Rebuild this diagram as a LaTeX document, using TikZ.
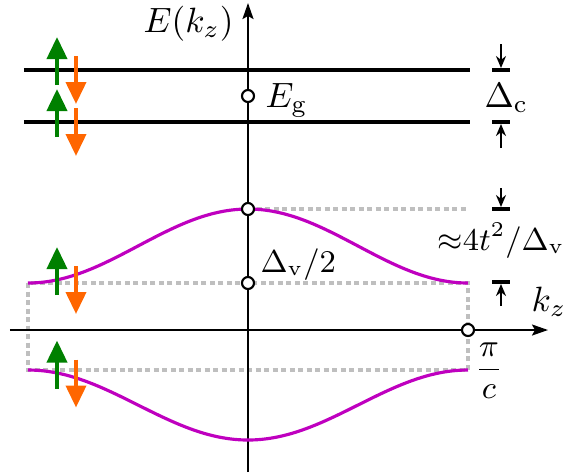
\documentclass[tikz,border=0pt]{standalone}
\usetikzlibrary{arrows.meta}
\definecolor{espinarriba}{RGB}{0,128,0}
\definecolor{espinabajo}{RGB}{255,102,0}
\definecolor{banda}{RGB}{191,0,191}
\tikzset{
  eje/.style={semithick, -{Stealth[length=0.16cm,width=0.11cm,inset=0.03cm]}},
  nivel/.style={line width=1.15pt},
  curva/.style={banda, line width=0.9pt, smooth, samples=80},
  guia/.style={black!25, line width=1pt, dash pattern=on 0.05cm off 0.035cm},
  espin/.style={line width=1.1pt, -{Triangle[width=0.2cm,length=0.22cm]}},
  marca/.style={semithick, -{Stealth[length=0.12cm,width=0.1cm]}},
  barra/.style={line width=0.9pt},
  punto/.style={circle, draw, fill=white, semithick, inner sep=0pt, minimum size=0.12cm},
  etiqueta/.style={anchor=base west, inner sep=0pt},
}
\begin{document}
\begin{tikzpicture}
    % parámetros
    \def\L{2.2}     % borde de la zona, pi/c
    \def\ca{2.60}   % nivel superior
    \def\cb{2.08}   % nivel inferior
    \def\va{0.47}   % borde banda superior
    \def\vc{1.21}   % máximo banda superior
    \def\vb{-0.40}  % borde banda inferior
    \def\vd{-1.10}  % mínimo banda inferior
    \def\xm{2.53}   % columna de las marcas

    \useasboundingbox (-2.48,-1.42) rectangle (3.15,3.30);

    %—————— guías punteadas ————————————————————————————————————————
    \draw[guia] (0,\vc) -- (\L,\vc);
    \draw[guia] (-\L,\va) rectangle (\L,\vb);

    %—————— ejes ———————————————————————————————————————————————————
    \draw[eje] (-2.38,0) -- (3.00,0);
    \node[etiqueta] (kz) at (2.83,0.19) {$k_z$};
    \draw[eje] (0,-1.42) -- (0,3.27);
    \node[etiqueta] (E) at (-1.05,2.98) {$E(k_z)$};

    %—————— niveles de conducción ——————————————————————————————————
    \draw[nivel] (-2.24,\ca) -- (2.22,\ca);
    \draw[nivel] (-2.24,\cb) -- (2.22,\cb);

    %—————— bandas de valencia —————————————————————————————————————
    \draw[curva, domain=-\L:\L] plot (\x, {\va + (\vc-\va)*(1+cos(180*\x/\L))/2});
    \draw[curva, domain=-\L:\L] plot (\x, {\vb + (\vd-\vb)*(1+cos(180*\x/\L))/2});

    %—————— espines ————————————————————————————————————————————————
    \foreach \e in {\ca,\cb,0.50,-0.435} {
      \draw[espin, espinarriba] (-1.91,\e-0.15) -- (-1.91,\e+0.33);
      \draw[espin, espinabajo]  (-1.72,\e+0.14) -- (-1.72,\e-0.34);
    }

    %—————— puntos y etiquetas —————————————————————————————————————
    \node[punto] (g)  at (0,{(\ca+\cb)/2}) {};
    \node[etiqueta] (Eg) at (0.17,2.23) {$E_{\mathrm{g}}$};
    \node[punto] (vt) at (0,\vc) {};
    \node[punto] (vm) at (0,\va) {};
    \node[etiqueta, font=\small] (dv2) at (0.12,0.58) {$\Delta_{\mathrm{v}}/2$};
    \node[punto] (pi) at (\L,0) {};
    \node[font=\small] (pic) at (2.41,-0.41) {$\displaystyle\frac{\pi}{c}$};

    %—————— marcas de separación ———————————————————————————————————
    \draw[barra] (\xm-0.09,\ca) -- (\xm+0.09,\ca);
    \draw[marca] (\xm,2.86) -- (\xm,\ca+0.02);
    \draw[barra] (\xm-0.09,\cb) -- (\xm+0.09,\cb);
    \draw[marca] (\xm,1.82) -- (\xm,\cb-0.02);
    \node[etiqueta] (dc) at (2.36,2.23) {$\Delta_{\mathrm{c}}$};

    \draw[barra] (\xm-0.09,\vc) -- (\xm+0.09,\vc);
    \draw[marca] (\xm,1.42) -- (\xm,\vc+0.02);
    \draw[barra] (\xm-0.09,0.48) -- (\xm+0.09,0.48);
    \draw[marca] (\xm,0.24) -- (\xm,0.46);
    \node[anchor=base, inner sep=0pt, font=\small] (dv) at (2.53,0.80) {${\approx}4t^2/\Delta_{\mathrm{v}}$};
\end{tikzpicture}
\end{document}
